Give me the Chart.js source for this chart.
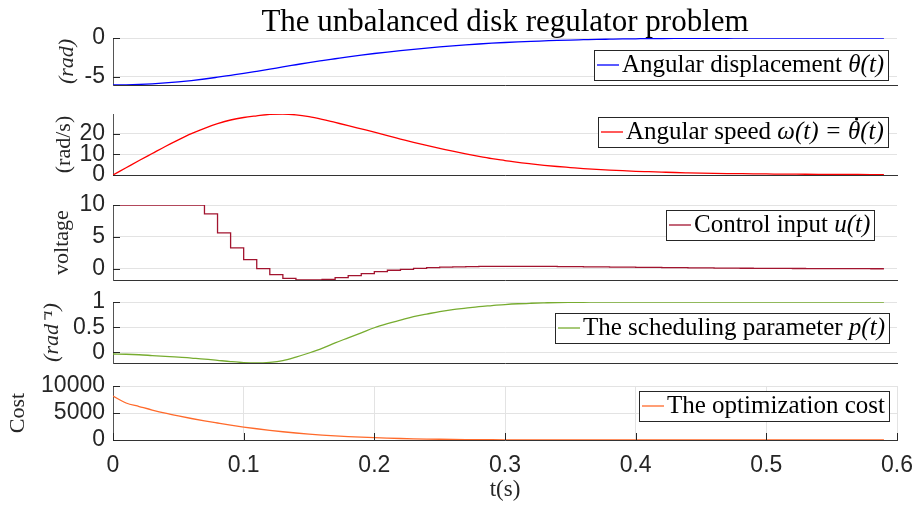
<!DOCTYPE html>
<html>
<head>
<meta charset="utf-8">
<title>The unbalanced disk regulator problem</title>
<script src="https://cdn.jsdelivr.net/npm/chart.js@4.4.1/dist/chart.umd.min.js"></script>
<style>
  body { margin: 0; background: #fff; }
  #fig { position: relative; width: 914px; height: 510px; overflow: hidden; }
  #fig canvas { position: absolute; left: 0; }
</style>
</head>
<body>
<div id="fig">
  <canvas id="c1"></canvas>
  <canvas id="c2"></canvas>
  <canvas id="c3"></canvas>
  <canvas id="c4"></canvas>
  <canvas id="c5"></canvas>
</div>
<script>
// sample times (s)
const time = [0, 0.01, 0.02, 0.03, 0.04, 0.05, 0.06, 0.07, 0.08, 0.09,
  0.1, 0.11, 0.12, 0.13, 0.14, 0.15, 0.16, 0.17, 0.18, 0.19,
  0.2, 0.21, 0.22, 0.23, 0.24, 0.25, 0.26, 0.27, 0.28, 0.29,
  0.3, 0.31, 0.32, 0.33, 0.34, 0.35, 0.36, 0.37, 0.38, 0.39,
  0.4, 0.41, 0.42, 0.43, 0.44, 0.45, 0.46, 0.47, 0.48, 0.49,
  0.5, 0.51, 0.52, 0.53, 0.54, 0.55, 0.56, 0.57, 0.58, 0.59];

// angular displacement (rad)
const theta = [-6.03, -6.01, -5.96, -5.88, -5.77, -5.63, -5.46, -5.26, -5.03, -4.79,
  -4.55, -4.28, -4.0, -3.71, -3.43, -3.15, -2.9, -2.66, -2.42, -2.2,
  -1.99, -1.8, -1.62, -1.45, -1.29, -1.14, -1.0, -0.88, -0.77, -0.67,
  -0.58, -0.5, -0.43, -0.37, -0.31, -0.26, -0.22, -0.18, -0.15, -0.12,
  -0.1, -0.08, -0.07, -0.06, -0.05, -0.04, -0.03, -0.03, -0.02, -0.02,
  -0.01, -0.01, -0.01, -0.01, 0, 0, 0, 0, 0, 0];

// angular speed (rad/s)
const omega = [0, 3.5, 7.0, 10.4, 13.8, 17.0, 20.0, 22.6, 24.8, 26.6,
  27.8, 28.6, 29.3, 29.5, 29.1, 28.2, 26.9, 25.4, 23.9, 22.3,
  20.7, 19.0, 17.4, 15.8, 14.3, 12.9, 11.5, 10.2, 9.0, 7.9,
  7.0, 6.1, 5.4, 4.7, 4.1, 3.6, 3.1, 2.7, 2.4, 2.1,
  1.8, 1.6, 1.4, 1.2, 1.05, 0.92, 0.81, 0.71, 0.63, 0.56,
  0.5, 0.45, 0.4, 0.36, 0.32, 0.29, 0.26, 0.24, 0.22, 0.2];

// control input (voltage), held over each sample
const control = [10, 10, 10, 10, 10, 10, 10, 8.6, 5.65, 3.3,
  1.47, 0.05, -0.88, -1.46, -1.7, -1.72, -1.62, -1.36, -1.05, -0.73,
  -0.42, -0.2, -0.05, 0.1, 0.21, 0.29, 0.34, 0.38, 0.4, 0.42,
  0.42, 0.42, 0.41, 0.4, 0.38, 0.36, 0.34, 0.32, 0.3, 0.28,
  0.26, 0.24, 0.22, 0.2, 0.18, 0.16, 0.15, 0.13, 0.12, 0.11,
  0.1, 0.09, 0.08, 0.07, 0.06, 0.06, 0.05, 0.05, 0.04, 0.04];

// scheduling parameter p(t)
const sched = [-0.03, -0.035, -0.045, -0.06, -0.075, -0.09, -0.11, -0.13, -0.155, -0.18,
  -0.2, -0.208, -0.195, -0.16, -0.09, -0.01, 0.08, 0.19, 0.29, 0.39,
  0.49, 0.57, 0.64, 0.71, 0.76, 0.81, 0.85, 0.88, 0.91, 0.93,
  0.95, 0.965, 0.975, 0.983, 0.99, 0.993, 0.995, 0.997, 0.998, 0.999,
  1, 1, 1, 1, 1, 1, 1, 1, 1, 1,
  1, 1, 1, 1, 1, 1, 1, 1, 1, 1];

// optimization cost
const cost = [8150, 6850, 6200, 5550, 4960, 4450, 3980, 3550, 3150, 2760,
  2400, 2080, 1790, 1530, 1300, 1100, 920, 770, 640, 530,
  430, 350, 280, 225, 180, 140, 110, 85, 65, 50,
  38, 29, 22, 17, 13, 10, 8, 6, 5, 4,
  3, 2, 2, 1, 1, 1, 1, 1, 0, 0,
  0, 0, 0, 0, 0, 0, 0, 0, 0, 0];

// tick labels
const timeTicks = [0, 0.1, 0.2, 0.3, 0.4, 0.5, 0.6];
const thetaTicks = [-5, 0];
const omegaTicks = [0, 10, 20];
const controlTicks = [0, 5, 10];
const schedTicks = [0, 0.5, 1];
const costTicks = [0, 5000, 10000];

// legend texts: [plain part, math part]
const thetaLegend = ['Angular displacement ', 'θ(t)'];
const omegaLegend = ['Angular speed ', 'ω(t) = θ\u0307(t)'];
const controlLegend = ['Control input ', 'u(t)'];
const schedLegend = ['The scheduling parameter ', 'p(t)'];
const costLegend = ['The optimization cost', ''];

const SERIF = "'Liberation Serif', 'Times New Roman', serif";
const SANS = "'Liberation Sans', Arial, sans-serif";
const AX = '#262626';
const GRID = '#e3e3e3';

// short tick marks pointing into the axes, matlab style
const inwardTicks = {
  id: 'inwardTicks',
  afterDraw(chart, args, opts) {
    const ctx = chart.ctx, a = chart.chartArea;
    ctx.save();
    ctx.strokeStyle = AX;
    ctx.lineWidth = 1;
    ctx.beginPath();
    chart.scales.y.ticks.forEach(t => {
      const y = Math.round(chart.scales.y.getPixelForValue(t.value)) + 0.5;
      ctx.moveTo(a.left, y);
      ctx.lineTo(a.left + 7, y);
    });
    if (opts.x) {
      chart.scales.x.ticks.forEach(t => {
        const x = Math.round(chart.scales.x.getPixelForValue(t.value)) + 0.5;
        ctx.moveTo(x, a.bottom);
        ctx.lineTo(x, a.bottom - 7);
      });
    }
    ctx.stroke();
    ctx.restore();
  }
};

// boxed legend inside the axes
const boxLegend = {
  id: 'boxLegend',
  afterDraw(chart, args, opts) {
    const ctx = chart.ctx, a = chart.chartArea;
    const ds = chart.data.datasets[0];
    const plain = opts.parts[0];
    let math = opts.parts[1];
    const dotAt = math.indexOf('\u0307');
    if (dotAt > 0) math = math.replace('\u0307', '');
    const size = 25, h = 30;
    const roman = size + 'px ' + SERIF, italic = 'italic ' + size + 'px ' + SERIF;
    ctx.save();
    ctx.font = roman;
    const w1 = ctx.measureText(plain).width;
    ctx.font = italic;
    const w2 = ctx.measureText(math).width;
    const right = Math.round(a.right - opts.dx);
    const top = Math.round(a.top + opts.dy);
    const left = Math.round(right - (28 + w1 + w2 + 4));
    ctx.fillStyle = '#fff';
    ctx.fillRect(left, top, right - left, h);
    ctx.strokeStyle = AX;
    ctx.lineWidth = 1;
    ctx.strokeRect(left + 0.5, top + 0.5, right - left, h);
    ctx.strokeStyle = ds.borderColor;
    ctx.lineWidth = 1.3;
    ctx.beginPath();
    ctx.moveTo(left + 3, top + h / 2);
    ctx.lineTo(left + 25, top + h / 2);
    ctx.stroke();
    const base = top + 22;
    ctx.fillStyle = '#000';
    ctx.textBaseline = 'alphabetic';
    ctx.font = roman;
    ctx.fillText(plain, left + 28, base);
    ctx.font = italic;
    ctx.fillText(math, left + 28 + w1, base);
    if (dotAt > 0) {
      // dot accent over the letter before the combining mark
      const x0 = left + 28 + w1 + ctx.measureText(math.slice(0, dotAt - 1)).width;
      const cw = ctx.measureText(math[dotAt - 1]).width;
      ctx.beginPath();
      ctx.arc(x0 + cw / 2 + 2.5, base - 20, 1.6, 0, Math.PI * 2);
      ctx.fill();
    }
    ctx.restore();
  }
};

function subplot(id, top, height, pad, series, opt) {
  const cv = document.getElementById(id);
  cv.width = 944;
  cv.height = height;
  cv.style.top = top + 'px';
  const last = !!opt.last;
  return new Chart(cv, {
    type: 'line',
    data: {
      datasets: [{
        label: opt.legend.join(''),
        data: time.map((t, i) => ({ x: t, y: series[i] })),
        borderColor: opt.color,
        borderWidth: 1.3,
        pointRadius: 0,
        stepped: opt.stepped || false,
        cubicInterpolationMode: opt.stepped ? 'default' : 'monotone',
        fill: false
      }]
    },
    options: {
      responsive: false,
      animation: false,
      events: [],
      layout: { padding: Object.assign({ left: 0, right: 47 }, pad) },
      plugins: {
        legend: { display: false },
        tooltip: { enabled: false },
        title: opt.title ? {
          display: true,
          text: opt.title,
          color: '#000',
          fullSize: false,
          font: { family: SERIF, size: 31, weight: 'normal', lineHeight: 1 },
          padding: { top: 7, bottom: 0 }
        } : { display: false },
        inwardTicks: { x: last },
        boxLegend: { parts: opt.legend, dx: opt.lx, dy: opt.ly }
      },
      scales: {
        x: {
          type: 'linear',
          min: 0,
          max: 0.6,
          afterBuildTicks: s => { s.ticks = timeTicks.map(v => ({ value: v })); },
          afterFit: s => { s.height = last ? 70 : 0; },
          grid: { display: last, color: GRID, drawTicks: false },
          border: { display: true, color: '#333', width: 1 },
          ticks: {
            display: last, padding: 12, color: AX, maxRotation: 0, autoSkip: false,
            font: { family: SANS, size: 23 },
            callback: v => String(v)
          },
          title: {
            display: last, text: 't(s)', color: AX,
            font: { family: SERIF, size: 23 },
            padding: { top: 0, bottom: 6 }
          }
        },
        y: {
          min: opt.min,
          max: opt.max,
          afterBuildTicks: s => { s.ticks = opt.ticks.map(v => ({ value: v })); },
          afterFit: s => { s.width = 113; },
          grid: { color: GRID, drawTicks: false },
          border: { display: true, color: '#555', width: 1 },
          ticks: {
            padding: 8, color: AX, autoSkip: false,
            font: { family: SANS, size: 23 },
            callback: v => String(v)
          },
          title: {
            display: true, text: opt.ylabel, color: AX,
            font: { family: SERIF, size: 22, style: opt.yitalic ? 'italic' : 'normal' },
            padding: { top: opt.labelX - 13.2, bottom: 0 }
          }
        }
      }
    },
    plugins: [inwardTicks, boxLegend]
  });
}

subplot('c1', 0, 109, { top: 0, bottom: 24 }, theta, {
  title: 'The unbalanced disk regulator problem',
  color: '#0000ff', min: -6.03, max: 0, ticks: thetaTicks,
  ylabel: '(rad)', yitalic: true, labelX: 67,
  legend: thetaLegend, lx: 9, ly: 12
});

subplot('c2', 90, 109, { top: 24, bottom: 24 }, omega, {
  color: '#ff0000', min: 0, max: 29.5, ticks: omegaTicks,
  ylabel: '(rad/s)', labelX: 64,
  legend: omegaLegend, lx: 9, ly: 3
});

subplot('c3', 181, 123, { top: 24, bottom: 24 }, control, {
  color: '#A2142F', min: -1.72, max: 10, ticks: controlTicks, stepped: 'before',
  ylabel: 'voltage', labelX: 62,
  legend: controlLegend, lx: 23, ly: 5
});

subplot('c4', 278, 109, { top: 24, bottom: 24 }, sched, {
  color: '#77AC30', min: -0.208, max: 1, ticks: schedTicks,
  ylabel: '(rad⁻¹)', yitalic: true, labelX: 52,
  legend: schedLegend, lx: 8, ly: 11
});

subplot('c5', 362, 148, { top: 24, bottom: 0 }, cost, {
  last: true,
  color: '#ff6a2b', min: 0, max: 10000, ticks: costTicks,
  ylabel: 'Cost', labelX: 18,
  legend: costLegend, lx: 8, ly: 5
});
</script>
</body>
</html>
